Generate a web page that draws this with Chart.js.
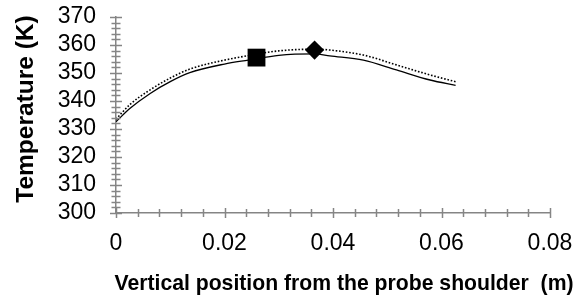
<!DOCTYPE html>
<html>
<head>
<meta charset="utf-8">
<script src="https://cdn.jsdelivr.net/npm/chart.js@4"></script>
<style>
html,body{margin:0;padding:0;background:#fff;}
#wrap{width:580px;height:300px;position:relative;}
</style>
</head>
<body>
<div id="wrap"><canvas id="c" width="580" height="300"></canvas></div>
<script>
// Data
const positions = [0, 0.0026, 0.0063, 0.010, 0.0136, 0.020, 0.0244, 0.030, 0.0367, 0.0394, 0.0456, 0.0517, 0.0579, 0.0626];
const tempSolid = [332.6, 337.4, 342.7, 346.9, 350.1, 353.2, 354.6, 356.3, 356.8, 356.1, 354.6, 351.1, 347.5, 345.6];
const tempDotted = [333.5, 338.8, 344.0, 348.2, 351.4, 354.6, 356.2, 357.9, 358.5, 358.2, 356.4, 352.9, 349.3, 346.9];
const squarePoint = [{x: 0.0259, y: 355.5}];
const diamondPoint = [{x: 0.0366, y: 358.2}];
const xTitle = 'Vertical position from the probe shoulder  (m)';
const yTitle = 'Temperature (K)';
const xMin = 0, xMax = 0.08, xStep = 0.02, xMinorStep = 0.004;
const yMin = 300, yMax = 370, yStep = 10, yMinorStep = 2;

const toXY = (xs, ys) => xs.map((x, i) => ({x: x, y: ys[i]}));
const axisColor = '#858585';
const fam = 'Liberation Sans, Arial, sans-serif';

const crossTicks = {
  id: 'crossTicks',
  afterDraw(chart) {
    const ctx = chart.ctx;
    const xs = chart.scales.x, ys = chart.scales.y;
    const x0 = xs.getPixelForValue(xMin);
    const y0 = ys.getPixelForValue(yMin);
    ctx.save();
    ctx.strokeStyle = axisColor;
    ctx.lineWidth = 1.5;
    const nY = Math.round((yMax - yMin) / yMinorStep);
    for (let i = 0; i <= nY; i++) {
      const v = yMin + i * yMinorStep;
      const p = Math.round(ys.getPixelForValue(v)) + 0.5;
      const major = (i % Math.round(yStep / yMinorStep)) === 0;
      const L = major ? 6 : 4.5;
      ctx.beginPath(); ctx.moveTo(x0 - L, p); ctx.lineTo(x0 + L, p); ctx.stroke();
    }
    const nX = Math.round((xMax - xMin) / xMinorStep);
    for (let i = 0; i <= nX; i++) {
      const v = xMin + i * xMinorStep;
      const p = Math.round(xs.getPixelForValue(v)) + 0.5;
      const major = (i % Math.round(xStep / xMinorStep)) === 0;
      const L = major ? 5 : 4;
      ctx.beginPath(); ctx.moveTo(p, y0 - L); ctx.lineTo(p, y0 + L); ctx.stroke();
    }
    // axis titles (drawn here so they are not squeezed to the plot width)
    ctx.fillStyle = '#000';
    ctx.font = 'bold 21.2px ' + fam;
    ctx.textAlign = 'center';
    ctx.textBaseline = 'alphabetic';
    ctx.fillText(xTitle, 344, 290);
    ctx.save();
    ctx.translate(32.5, 109);
    ctx.rotate(-Math.PI / 2);
    ctx.font = 'bold 24.5px ' + fam;
    ctx.fillText(yTitle, 0, 0);
    ctx.restore();
    ctx.restore();
  }
};

new Chart(document.getElementById('c'), {
  type: 'scatter',
  data: {
    datasets: [
      {data: toXY(positions, tempSolid), showLine: true, borderColor: '#000', borderWidth: 1.3, pointRadius: 0, cubicInterpolationMode: 'monotone'},
      {data: toXY(positions, tempDotted), showLine: true, borderColor: '#000', borderWidth: 1.6, borderDash: [1.6, 1.8], pointRadius: 0, cubicInterpolationMode: 'monotone'},
      {data: squarePoint, pointStyle: 'rect', pointRadius: 12.6, backgroundColor: '#000', borderColor: '#000', borderWidth: 0},
      {data: diamondPoint, pointStyle: 'rectRot', pointRadius: 9.6, backgroundColor: '#000', borderColor: '#000', borderWidth: 0}
    ]
  },
  options: {
    responsive: false,
    animation: false,
    events: [],
    layout: {padding: {top: 17, right: 30, left: 0, bottom: 0}},
    plugins: {legend: {display: false}, tooltip: {enabled: false}},
    scales: {
      x: {
        type: 'linear', min: xMin, max: xMax,
        ticks: {stepSize: xStep, autoSkip: false, color: '#000', font: {family: fam, size: 23}, padding: 17, maxRotation: 0,
          callback: v => (Math.round(v * 100) / 100).toString()},
        grid: {display: false, drawTicks: false},
        border: {display: true, color: axisColor, width: 1.5},
        title: {display: false},
        afterFit: s => { s.height = 87; s.paddingLeft = 0; s.paddingRight = 0; }
      },
      y: {
        min: yMin, max: yMax,
        ticks: {stepSize: yStep, autoSkip: false, color: '#000', font: {family: fam, size: 23}, padding: 20},
        grid: {display: false, drawTicks: false},
        border: {display: true, color: axisColor, width: 1.5},
        title: {display: false},
        afterFit: s => { s.width = 116; s.paddingTop = 0; s.paddingBottom = 0; }
      }
    }
  },
  plugins: [crossTicks]
});
</script>
</body>
</html>
